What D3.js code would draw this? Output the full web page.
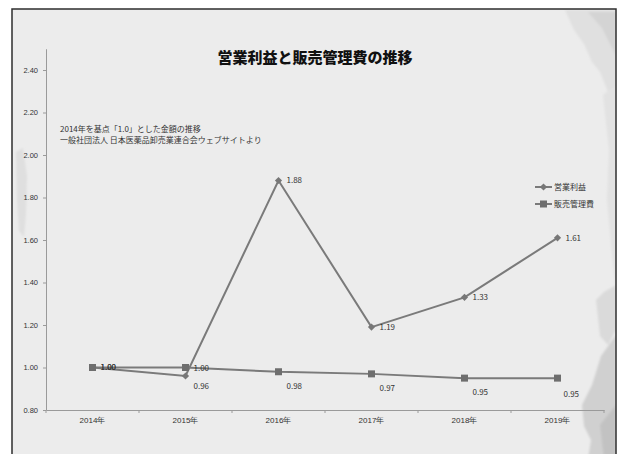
<!DOCTYPE html>
<html>
<head>
<meta charset="utf-8">
<script src="https://cdn.jsdelivr.net/npm/d3@7/dist/d3.min.js"></script>
<style>
  html, body { margin: 0; padding: 0; background: #fff; }
  svg { display: block; font-family: "Noto Sans CJK JP", "Noto Sans", sans-serif; }
</style>
</head>
<body>
<svg id="chart" width="619" height="454"></svg>
<script>
// Chart data
const years = ["2014年", "2015年", "2016年", "2017年", "2018年", "2019年"];
const operatingProfit = [1.00, 0.96, 1.88, 1.19, 1.33, 1.61];   // 営業利益
const sgaExpenses = [1.00, 1.00, 0.98, 0.97, 0.95, 0.95];       // 販売管理費
const yTickValues = [0.80, 1.00, 1.20, 1.40, 1.60, 1.80, 2.00, 2.20, 2.40];
const seriesNames = ["営業利益", "販売管理費"];
const titleText = "営業利益と販売管理費の推移";
const noteLines = ["2014年を基点「1.0」とした金額の推移", "一般社団法人 日本医薬品卸売業連合会ウェブサイトより"];

const svg = d3.select("#chart");
const lineColor = "#7a7a7a";
const textColor = "#333333";

// Chart area background and frame
const defs = svg.append("defs");
defs.append("filter").attr("id", "soft")
  .append("feGaussianBlur").attr("stdDeviation", 0.8);
defs.append("clipPath").attr("id", "frameClip")
  .append("rect").attr("x", 12).attr("y", 9).attr("width", 604).attr("height", 450);

svg.append("rect").attr("x", 12).attr("y", 9).attr("width", 604).attr("height", 450)
  .attr("fill", "#ececec");

// Brush-stroke decoration along the edges
const deco = svg.append("g").attr("clip-path", "url(#frameClip)").attr("filter", "url(#soft)");
const strokes = [
  { d: "M565,10 L616,10 L616,110 L608,92 L600,72 L592,62 L584,44 L574,30 Z", f: "#e0e0e0" },
  { d: "M588,12 L616,12 L616,55 L610,44 L602,28 Z", f: "#d4d4d4" },
  { d: "M603,95 L616,85 L616,290 L612,255 L607,200 L609,150 Z", f: "#e2e2e2" },
  { d: "M596,300 L604,292 L616,285 L616,330 L608,345 L600,336 Z", f: "#dadada" },
  { d: "M582,405 L592,385 L601,356 L616,335 L616,459 L588,459 L591,440 L584,426 Z", f: "#d0d0d0" },
  { d: "M600,425 L616,405 L616,459 L604,459 Z", f: "#c2c2c2" },
  { d: "M16,152 L23,148 L27,176 L26,214 L24,237 L19,231 L17,200 Z", f: "#dfdfdf" }
];
deco.selectAll("path").data(strokes).join("path")
  .attr("d", s => s.d).attr("fill", s => s.f);

svg.append("rect").attr("x", 12).attr("y", 9).attr("width", 604).attr("height", 450)
  .attr("fill", "none").attr("stroke", "#2e2e2e").attr("stroke-width", 1.5);

// Scales
const x = d3.scaleBand().domain(years).range([46, 604]).padding(0);
const cx = d => x(d) + x.bandwidth() / 2;
const y = d3.scaleLinear().domain([0.8, 2.5]).range([410, 48.75]);

// Y axis
const yAxis = svg.append("g").attr("transform", "translate(46,0)")
  .call(d3.axisLeft(y).tickValues(yTickValues).tickFormat(d3.format(".2f"))
    .tickSize(3).tickSizeOuter(0).tickPadding(5));
yAxis.select(".domain").attr("stroke", "#9a9a9a");
yAxis.selectAll(".tick line").attr("stroke", "#9a9a9a");
yAxis.selectAll(".tick text").attr("fill", textColor).attr("font-size", 7.5);

// X axis: labels centred on categories, tick marks on category boundaries
const xAxis = svg.append("g").attr("transform", "translate(0,410)")
  .call(d3.axisBottom(x).tickSize(0).tickPadding(7).tickSizeOuter(0));
xAxis.select(".domain").attr("stroke", "#9a9a9a");
xAxis.selectAll(".tick text").attr("fill", textColor).attr("font-size", 8);
const boundaries = years.map(d => x(d)).concat([x.range()[1]]);
xAxis.selectAll(".bound").data(boundaries).join("line")
  .attr("class", "bound").attr("x1", d => d).attr("x2", d => d)
  .attr("y1", 0).attr("y2", 3).attr("stroke", "#9a9a9a");

// Title and notes
svg.append("text").attr("x", 315).attr("y", 63).attr("text-anchor", "middle")
  .attr("font-size", 15).attr("font-weight", 900).attr("fill", "#111").text(titleText);
svg.selectAll(".note").data(noteLines).join("text").attr("class", "note")
  .attr("x", 60).attr("y", (d, i) => 131.5 + i * 11).attr("font-size", 8)
  .attr("fill", textColor).text(d => d);

// Lines
const line = d3.line().x((d, i) => cx(years[i])).y(d => y(d));
svg.append("path").datum(sgaExpenses).attr("d", line)
  .attr("fill", "none").attr("stroke", lineColor).attr("stroke-width", 2);
svg.append("path").datum(operatingProfit).attr("d", line)
  .attr("fill", "none").attr("stroke", lineColor).attr("stroke-width", 2);

// Markers: rotated squares for 営業利益, squares for 販売管理費
const diamond = d3.symbol().type(d3.symbolSquare).size(26);
svg.selectAll(".mk-profit").data(operatingProfit).join("path").attr("class", "mk-profit")
  .attr("transform", (d, i) => `translate(${cx(years[i])},${y(d)}) rotate(45)`)
  .attr("d", diamond).attr("fill", "#777");
svg.selectAll(".mk-sga").data(sgaExpenses).join("rect").attr("class", "mk-sga")
  .attr("x", (d, i) => cx(years[i]) - 3.5).attr("y", d => y(d) - 3.5)
  .attr("width", 7).attr("height", 7).attr("fill", "#6e6e6e");

// Data labels (offsets from each point)
const fmt = d3.format(".2f");
const profitOffsets = [[8, 0], [8, 10], [8, 0], [8, 0], [8, 0], [8, 0]];
const sgaOffsets = [[8, 0], [8, 1], [8, 14], [8, 14], [8, 14], [6, 16]];
function labels(values, offsets, cls) {
  svg.selectAll("." + cls).data(values).join("text").attr("class", cls)
    .attr("x", (d, i) => cx(years[i]) + offsets[i][0])
    .attr("y", (d, i) => y(d) + offsets[i][1])
    .attr("dy", "0.35em").attr("font-size", 8).attr("fill", textColor)
    .text(d => fmt(d));
}
labels(sgaExpenses, sgaOffsets, "lb-sga");
labels(operatingProfit, profitOffsets, "lb-profit");

// Legend
const legend = svg.append("g").attr("transform", "translate(535,187)");
seriesNames.forEach((name, i) => {
  const g = legend.append("g").attr("transform", `translate(0,${i * 17})`);
  g.append("line").attr("x1", 0).attr("x2", 17).attr("stroke", lineColor).attr("stroke-width", 2);
  if (i === 0) {
    g.append("path").attr("transform", "translate(8.5,0) rotate(45)").attr("d", diamond).attr("fill", "#777");
  } else {
    g.append("rect").attr("x", 5).attr("y", -3.5).attr("width", 7).attr("height", 7).attr("fill", "#6e6e6e");
  }
  g.append("text").attr("x", 19).attr("dy", "0.35em").attr("font-size", 8)
    .attr("fill", textColor).text(name);
});
</script>
</body>
</html>
